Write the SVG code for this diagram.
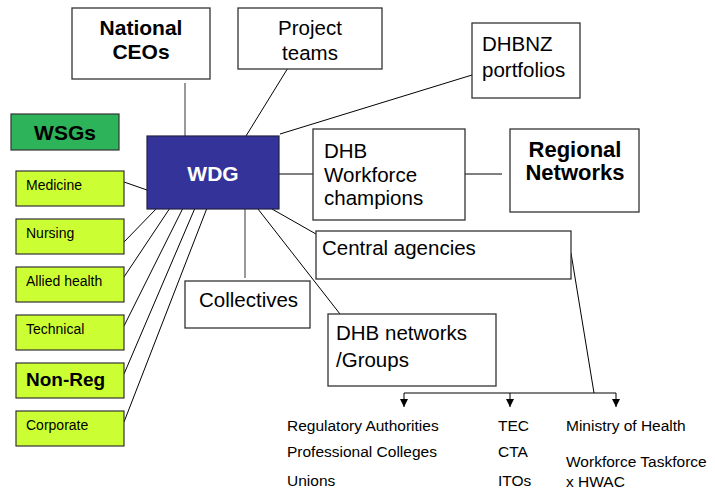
<svg xmlns="http://www.w3.org/2000/svg" width="715" height="490" viewBox="0 0 715 490">
  <style>
    .box { fill: #ffffff; stroke: #333333; stroke-width: 1.3; }
    .wsg { fill: #ccff33; stroke: #333333; stroke-width: 1.2; }
    .t { font-family: "Liberation Sans", Arial, sans-serif; font-size: 20.5px; fill: #000000; }
    .b { font-family: "Liberation Sans", Arial, sans-serif; font-weight: bold; fill: #000000; }
    .s { font-family: "Liberation Sans", Arial, sans-serif; font-size: 14px; fill: #000000; }
    .bt { font-family: "Liberation Sans", Arial, sans-serif; font-size: 15.5px; fill: #000000; }
    .mid { text-anchor: middle; }
    .ln { stroke: #000000; stroke-width: 1; fill: none; }
    .gl { stroke: #808080; stroke-width: 1.6; fill: none; }
  </style>
  <defs>
    <marker id="arrow" viewBox="0 0 8 8" refX="8" refY="4" markerWidth="8" markerHeight="8" markerUnits="userSpaceOnUse" orient="auto">
      <path d="M0,0 L8,4 L0,8 Z" fill="#000000"/>
    </marker>
  </defs>

  <rect width="715" height="490" fill="#ffffff"/>

  <!-- connectors -->
  <g id="connectors">
    <line class="gl" x1="185" y1="83" x2="185" y2="136"/>
    <line class="ln" x1="246" y1="136" x2="291" y2="63"/>
    <line class="ln" x1="280" y1="134" x2="472" y2="75"/>
    <line class="ln" x1="276" y1="174" x2="313" y2="174"/>
    <line class="ln" x1="465" y1="174" x2="502" y2="174"/>
    <line class="ln" x1="272" y1="209" x2="316" y2="234"/>
    <line class="ln" x1="258" y1="209" x2="340" y2="314"/>
    <line class="gl" x1="245" y1="209" x2="245" y2="278"/>
    <line class="ln" x1="124" y1="182" x2="147" y2="190"/>
    <line class="ln" x1="157" y1="208" x2="124" y2="242"/>
    <line class="ln" x1="170" y1="208" x2="124" y2="277"/>
    <line class="ln" x1="183" y1="208" x2="124" y2="326"/>
    <line class="ln" x1="195" y1="208" x2="124" y2="374"/>
    <line class="ln" x1="207" y1="208" x2="124" y2="422"/>
    <line class="ln" x1="571" y1="253" x2="594" y2="393"/>
    <line class="ln" x1="404" y1="393" x2="616" y2="393"/>
    <line class="ln" x1="404" y1="393" x2="404" y2="407" marker-end="url(#arrow)"/>
    <line class="ln" x1="510" y1="393" x2="510" y2="407" marker-end="url(#arrow)"/>
    <line class="ln" x1="616" y1="393" x2="616" y2="407" marker-end="url(#arrow)"/>
  </g>

  <g id="national-ceos">
    <rect class="box" x="72" y="8" width="138" height="71"/>
    <text class="b mid" x="141" y="35" font-size="21">National</text>
    <text class="b mid" x="141" y="59" font-size="21">CEOs</text>
  </g>

  <g id="project-teams">
    <rect class="box" x="238" y="8" width="144" height="61"/>
    <text class="t mid" x="310" y="35">Project</text>
    <text class="t mid" x="310" y="60">teams</text>
  </g>

  <g id="dhbnz-portfolios">
    <rect class="box" x="472" y="23" width="108" height="75"/>
    <text class="t" x="482" y="51">DHBNZ</text>
    <text class="t" x="482" y="77">portfolios</text>
  </g>

  <g id="wsgs">
    <rect x="11" y="114" width="108" height="36" fill="#2db35a" stroke="#333333" stroke-width="1.2"/>
    <text class="b mid" x="65" y="140" font-size="21">WSGs</text>
  </g>

  <g id="wdg">
    <rect x="147" y="136" width="132" height="73" fill="#333399" stroke="#222244" stroke-width="1.2"/>
    <text class="b mid" x="213" y="181" font-size="21" fill="#ffffff" style="fill:#ffffff">WDG</text>
  </g>

  <g id="dhb-workforce-champions">
    <rect class="box" x="313" y="129" width="152" height="91"/>
    <text class="t" x="324" y="158">DHB</text>
    <text class="t" x="324" y="182">Workforce</text>
    <text class="t" x="324" y="205">champions</text>
  </g>

  <g id="regional-networks">
    <rect class="box" x="510" y="129" width="129" height="83"/>
    <text class="b mid" x="575" y="157" font-size="22">Regional</text>
    <text class="b mid" x="575" y="180" font-size="22">Networks</text>
  </g>

  <g id="central-agencies">
    <rect class="box" x="316" y="231" width="255" height="48"/>
    <text class="t" x="322" y="255">Central agencies</text>
  </g>

  <g id="collectives">
    <rect class="box" x="185" y="281" width="125" height="47"/>
    <text class="t" x="199" y="307">Collectives</text>
  </g>

  <g id="dhb-networks">
    <rect class="box" x="328" y="314" width="168" height="72"/>
    <text class="t" x="336" y="340">DHB networks</text>
    <text class="t" x="336" y="367">/Groups</text>
  </g>

  <g id="medicine">
    <rect class="wsg" x="16" y="171" width="108" height="35"/>
    <text class="s" x="26" y="190">Medicine</text>
  </g>
  <g id="nursing">
    <rect class="wsg" x="16" y="219" width="108" height="35"/>
    <text class="s" x="26" y="238">Nursing</text>
  </g>
  <g id="allied-health">
    <rect class="wsg" x="16" y="267" width="108" height="35"/>
    <text class="s" x="26" y="286">Allied health</text>
  </g>
  <g id="technical">
    <rect class="wsg" x="16" y="315" width="108" height="35"/>
    <text class="s" x="26" y="334">Technical</text>
  </g>
  <g id="non-reg">
    <rect class="wsg" x="16" y="363" width="108" height="35"/>
    <text class="b" x="26" y="386" font-size="19">Non-Reg</text>
  </g>
  <g id="corporate">
    <rect class="wsg" x="16" y="411" width="108" height="35"/>
    <text class="s" x="26" y="430">Corporate</text>
  </g>

  <g id="bodies-regulatory">
    <text class="bt" x="287" y="431">Regulatory Authorities</text>
    <text class="bt" x="287" y="457">Professional Colleges</text>
    <text class="bt" x="287" y="486">Unions</text>
  </g>
  <g id="bodies-education">
    <text class="bt" x="498" y="431">TEC</text>
    <text class="bt" x="498" y="457">CTA</text>
    <text class="bt" x="498" y="486">ITOs</text>
  </g>
  <g id="bodies-government">
    <text class="bt" x="566" y="431">Ministry of Health</text>
    <text class="bt" x="566" y="467">Workforce Taskforce</text>
    <text class="bt" x="566" y="487">x HWAC</text>
  </g>
</svg>
